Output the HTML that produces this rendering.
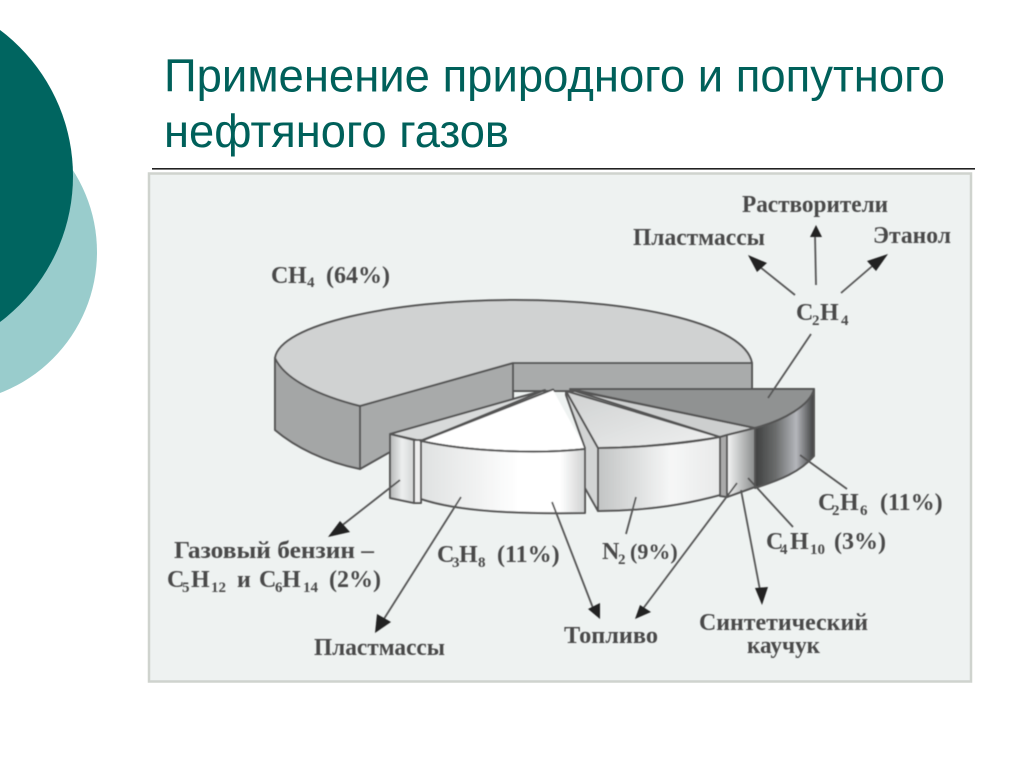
<!DOCTYPE html>
<html><head><meta charset="utf-8"><style>
html,body{margin:0;padding:0;background:#fff;width:1024px;height:767px;overflow:hidden}
svg{display:block}
.t{font-family:"Liberation Sans",sans-serif;font-size:46px;fill:#00605a}
.l{font-family:"Liberation Serif",serif;font-size:24px;font-weight:bold;fill:#4a4a4a;filter:url(#b)}
.s{font-size:15px}
.e{stroke:#555;stroke-width:2;stroke-linejoin:round}
.a{stroke:#555;stroke-width:1.8;fill:none}
.h{fill:#222}
</style></head><body>
<svg width="1024" height="767" viewBox="0 0 1024 767" xmlns="http://www.w3.org/2000/svg">
<defs>
<filter id="b" x="-5%" y="-10%" width="110%" height="120%"><feGaussianBlur stdDeviation="0.5"/></filter>
<filter id="p" x="-2%" y="-2%" width="104%" height="104%"><feGaussianBlur stdDeviation="0.5"/></filter>
<linearGradient id="g1" x1="0" x2="1" y1="0" y2="0"><stop offset="0" stop-color="#b5b7b7"/><stop offset=".5" stop-color="#eceeee"/><stop offset="1" stop-color="#d4d6d6"/></linearGradient>
<linearGradient id="g2" x1="0" x2="1" y1="0" y2="0"><stop offset="0" stop-color="#dfe1e1"/><stop offset=".6" stop-color="#fff"/><stop offset=".85" stop-color="#fff"/><stop offset="1" stop-color="#cfd1d1"/></linearGradient>
<linearGradient id="g3" x1="0" x2="1" y1="0" y2="0"><stop offset="0" stop-color="#c2c4c4"/><stop offset=".6" stop-color="#f6f7f7"/><stop offset="1" stop-color="#e8e9e9"/></linearGradient>
<linearGradient id="g4" x1="0" x2="1" y1="0" y2="0"><stop offset="0" stop-color="#f4f5f5"/><stop offset="1" stop-color="#8a8c8c"/></linearGradient>
<linearGradient id="g5" x1="0" x2="1" y1="0" y2="0"><stop offset="0" stop-color="#3e3f3f"/><stop offset=".35" stop-color="#6a6c6c"/><stop offset=".7" stop-color="#b4b6bb"/><stop offset="1" stop-color="#3e3f3f"/></linearGradient>
<linearGradient id="g6" x1="0" x2="1" y1="0" y2="1"><stop offset="0" stop-color="#cfd1d1"/><stop offset="1" stop-color="#eff0f0"/></linearGradient>
</defs>

<circle cx="-54" cy="252" r="151" fill="#99cccc"/>
<circle cx="-109.5" cy="176" r="182.5" fill="#006560"/>

<text class="t" x="164" y="91.500" textLength="781" lengthAdjust="spacingAndGlyphs">Применение природного и попутного</text>
<text class="t" x="164" y="147" textLength="345" lengthAdjust="spacingAndGlyphs">нефтяного газов</text>
<rect x="152" y="168" width="823" height="1.6" fill="#222"/>

<rect x="149" y="173.500" width="822" height="508" fill="#eef2f1" stroke="#cfd3ce" stroke-width="2.500"/>

<g filter="url(#p)">
<!-- CH4 -->
<path d="M513 363L513 400L390 438L390 452L360 469L360 406Z" fill="#a8aaaa" class="e"/>
<path d="M513 363H752V391H513Z" fill="#a9abab" class="e"/>
<path d="M275 358V430C295 447 325 462 360 469V406C320 396 290 380 275 358Z" fill="#a4a6a6" class="e"/>
<path d="M275 358C280 325 390 300 515 300C640 300 745 325 752 363H513L360 406C320 396 285 380 275 358Z" fill="#d0d2d2" class="e"/>

<!-- gasoline -->
<path d="M390 434L545 390L421 441Z" fill="#d8dada" class="e"/>
<path d="M390 434L414 440V503L390 498Z" fill="url(#g1)" class="e"/>
<path d="M414 440H421V503L414 503Z" fill="#eee" class="e"/>
<path d="M421 441L553 390L424 442Z" fill="#555" stroke="#555" stroke-width="3" stroke-linejoin="round"/>
<!-- C3H8 -->
<path d="M423 442C470 452 540 454 585 449L553 391Z" fill="#fff" stroke="#fff"/>
<path d="M421 441C470 452 540 454 585 449" fill="none" class="e"/>
<path d="M421 441C470 452 540 454 585 449V513C520 514 460 512 421 499Z" fill="url(#g2)" class="e"/>

<!-- N2 -->
<path d="M566 391L598 448V511L585 488V448L566 395Z" fill="#d2d4d4" class="e"/>
<path d="M566 391L720 437C690 442 640 448 598 448Z" fill="url(#g6)" class="e"/>
<path d="M598 448C640 448 690 443 720 437V495C680 506 640 511 598 511Z" fill="url(#g3)" class="e"/>
<!-- C4H10 -->
<path d="M572 390L755 428L727 435L720 437Z" fill="#cdcfcf" class="e"/>
<path d="M720 437L727 435V497L720 496Z" fill="#aaa" class="e"/>
<path d="M727 435L755 428V487L727 497Z" fill="url(#g4)" class="e"/>
<!-- C2H6 -->
<path d="M570 389H814C812 405 785 420 755 428Z" fill="#909292" class="e"/>
<path d="M755 428C785 420 810 405 814 389V456C800 472 780 480 755 488Z" fill="url(#g5)" class="e"/>

<!-- leader lines -->
<g class="a">
<line x1="795" y1="295" x2="755" y2="263"/>
<line x1="816" y1="285" x2="815" y2="235"/>
<line x1="841" y1="293" x2="877" y2="262"/>
<line x1="811" y1="334" x2="768" y2="398"/>
<line x1="400" y1="480" x2="340" y2="527"/>
<line x1="461" y1="497" x2="382" y2="622"/>
<line x1="552" y1="502" x2="593" y2="608"/>
<line x1="737" y1="483" x2="642" y2="610"/>
<line x1="741" y1="490" x2="760" y2="590"/>
<line x1="748" y1="478" x2="793" y2="527"/>
<line x1="800" y1="455" x2="847" y2="489"/>
<line x1="636" y1="497" x2="626" y2="534"/>
</g>
<!-- arrowheads -->
<g class="h">
<polygon points="748,255 767,263 757,272"/>
<polygon points="816,225 810,237 822,237"/>
<polygon points="888,254 867,261 876,271"/>
<polygon points="328,537 340,521 350,532"/>
<polygon points="375,633 377,614 391,622"/>
<polygon points="600,619 588,609 600,603"/>
<polygon points="635,619 640,605 651,612"/>
<polygon points="762,605 755,588 768,587"/>
</g>
</g>

<!-- labels -->
<text class="l" y="283"><tspan x="271">C</tspan><tspan x="288">H</tspan><tspan class="s" x="307" dy="4">4</tspan><tspan x="326" dy="-4">(64%)</tspan></text>
<text class="l" x="742" y="212" textLength="146" lengthAdjust="spacingAndGlyphs">Растворители</text>
<text class="l" x="633" y="245" textLength="132" lengthAdjust="spacingAndGlyphs">Пластмассы</text>
<text class="l" x="873" y="243" textLength="78" lengthAdjust="spacingAndGlyphs">Этанол</text>
<text class="l" y="320"><tspan x="796">C</tspan><tspan class="s" x="812" dy="5">2</tspan><tspan x="820" dy="-5">H</tspan><tspan class="s" x="841" dy="5">4</tspan></text>
<text class="l" y="510"><tspan x="818">C</tspan><tspan class="s" x="832" dy="5">2</tspan><tspan x="840" dy="-5">H</tspan><tspan class="s" x="860" dy="5">6</tspan><tspan x="880" dy="-5">(11%)</tspan></text>
<text class="l" y="549"><tspan x="766">C</tspan><tspan class="s" x="780" dy="5">4</tspan><tspan x="790" dy="-5">H</tspan><tspan class="s" x="810" dy="5">10</tspan><tspan x="834" dy="-5">(3%)</tspan></text>
<text class="l" y="559"><tspan x="602">N</tspan><tspan class="s" x="618" dy="5">2</tspan><tspan x="630" dy="-5" style="font-size:22px">(9%)</tspan></text>
<text class="l" y="562"><tspan x="437">C</tspan><tspan class="s" x="452" dy="5">3</tspan><tspan x="459" dy="-5">H</tspan><tspan class="s" x="478" dy="5">8</tspan><tspan x="497" dy="-5">(11%)</tspan></text>
<text class="l" x="174" y="558" textLength="200" lengthAdjust="spacingAndGlyphs">Газовый бензин –</text>
<text class="l" y="587"><tspan x="167">C</tspan><tspan class="s" x="182" dy="5">5</tspan><tspan x="191" dy="-5">H</tspan><tspan class="s" x="211" dy="5">12</tspan><tspan x="237" dy="-5">и</tspan><tspan x="259">C</tspan><tspan class="s" x="275" dy="5">6</tspan><tspan x="282" dy="-5">H</tspan><tspan class="s" x="303" dy="5">14</tspan><tspan x="329" dy="-5">(2%)</tspan></text>
<text class="l" x="314" y="655" textLength="131" lengthAdjust="spacingAndGlyphs">Пластмассы</text>
<text class="l" x="564" y="643" textLength="94" lengthAdjust="spacingAndGlyphs">Топливо</text>
<text class="l" x="699" y="630" textLength="169" lengthAdjust="spacingAndGlyphs">Синтетический</text>
<text class="l" x="747" y="653" textLength="73" lengthAdjust="spacingAndGlyphs">каучук</text>
</svg>
</body></html>
